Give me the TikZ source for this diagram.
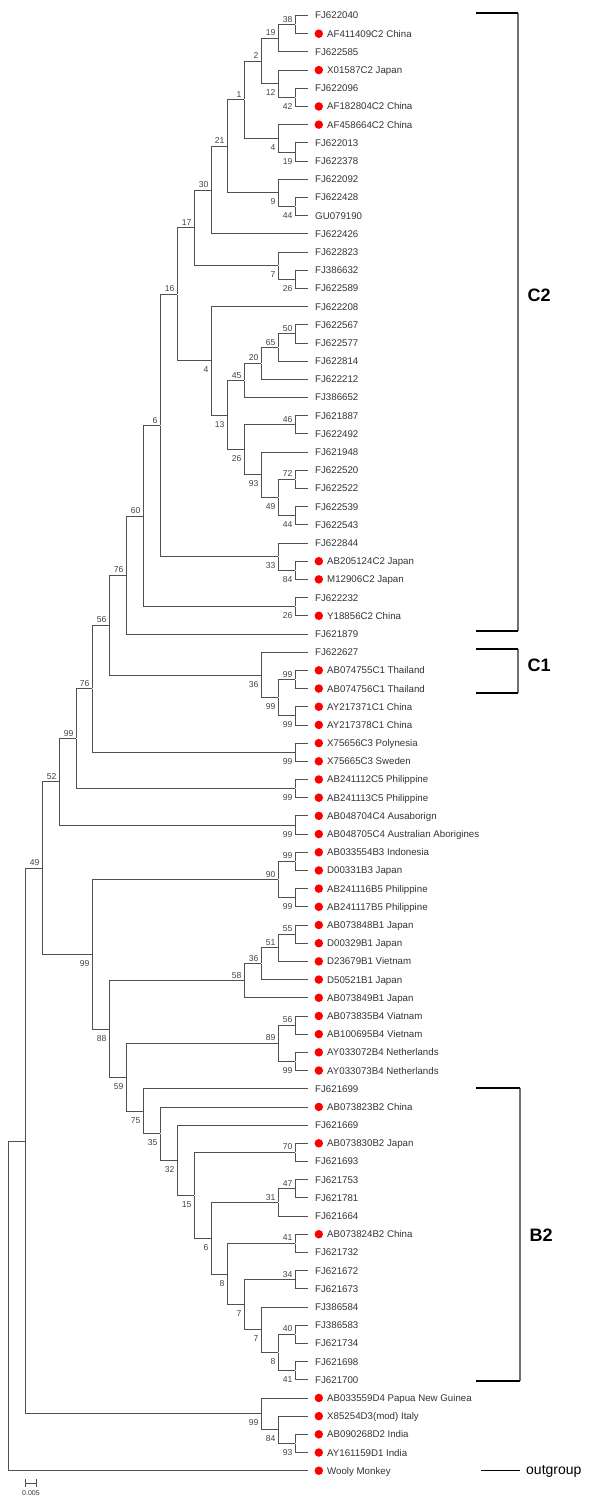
\documentclass[tikz,border=0pt]{standalone}
\usepackage{fontspec}
\setmainfont{Liberation Sans}
\usepackage{tikz}
\usetikzlibrary{positioning}
\definecolor{inkgray}{HTML}{333333}
\definecolor{linegray}{HTML}{505050}
\definecolor{bootgray}{HTML}{444444}
\definecolor{brackgray}{HTML}{707070}

\begin{document}
\begin{tikzpicture}
[x=1pt,y=-18.19pt,
 inner/.style={inner sep=0pt,minimum size=0pt},
 boot/.style={font=\fontsize{8.6}{9}\selectfont,text=bootgray,inner sep=2.2pt,text height=6.2pt,text depth=0pt},
 hi/.style={label={[boot,yshift=5.5pt]left:#1}},
 lo/.style={label={[boot,yshift=-9pt]left:#1}},
 leaf/.style={anchor=west,inner xsep=7pt,inner ysep=0pt,text height=6.95pt,text depth=0pt,font=\fontsize{9.7}{10}\selectfont,text=inkgray},
 reddot/.style={circle,fill=red,inner sep=0pt,minimum size=8.5pt},
 hbv/.style={leaf,inner xsep=19pt,label={[reddot,xshift=15.25pt]west:{}}},
 br/.style={draw=linegray,line width=0.8pt},
 brk/.style={draw=black,line width=1.6pt},
 brkv/.style={draw=brackgray,line width=1.2pt},
 clade/.style={anchor=west,font=\fontsize{18}{18}\selectfont\bfseries}]
\useasboundingbox (0,0.148) rectangle (600,82.94);

% leaves
\node[leaf] (FJ622040) at (308,1) {FJ622040};
\node[hbv] (AF411409) at (308,2) {AF411409C2 China};
\node[leaf] (FJ622585) at (308,3) {FJ622585};
\node[hbv] (X01587) at (308,4) {X01587C2 Japan};
\node[leaf] (FJ622096) at (308,5) {FJ622096};
\node[hbv] (AF182804) at (308,6) {AF182804C2 China};
\node[hbv] (AF458664) at (308,7) {AF458664C2 China};
\node[leaf] (FJ622013) at (308,8) {FJ622013};
\node[leaf] (FJ622378) at (308,9) {FJ622378};
\node[leaf] (FJ622092) at (308,10) {FJ622092};
\node[leaf] (FJ622428) at (308,11) {FJ622428};
\node[leaf] (GU079190) at (308,12) {GU079190};
\node[leaf] (FJ622426) at (308,13) {FJ622426};
\node[leaf] (FJ622823) at (308,14) {FJ622823};
\node[leaf] (FJ386632) at (308,15) {FJ386632};
\node[leaf] (FJ622589) at (308,16) {FJ622589};
\node[leaf] (FJ622208) at (308,17) {FJ622208};
\node[leaf] (FJ622567) at (308,18) {FJ622567};
\node[leaf] (FJ622577) at (308,19) {FJ622577};
\node[leaf] (FJ622814) at (308,20) {FJ622814};
\node[leaf] (FJ622212) at (308,21) {FJ622212};
\node[leaf] (FJ386652) at (308,22) {FJ386652};
\node[leaf] (FJ621887) at (308,23) {FJ621887};
\node[leaf] (FJ622492) at (308,24) {FJ622492};
\node[leaf] (FJ621948) at (308,25) {FJ621948};
\node[leaf] (FJ622520) at (308,26) {FJ622520};
\node[leaf] (FJ622522) at (308,27) {FJ622522};
\node[leaf] (FJ622539) at (308,28) {FJ622539};
\node[leaf] (FJ622543) at (308,29) {FJ622543};
\node[leaf] (FJ622844) at (308,30) {FJ622844};
\node[hbv] (AB205124) at (308,31) {AB205124C2 Japan};
\node[hbv] (M12906) at (308,32) {M12906C2 Japan};
\node[leaf] (FJ622232) at (308,33) {FJ622232};
\node[hbv] (Y18856) at (308,34) {Y18856C2 China};
\node[leaf] (FJ621879) at (308,35) {FJ621879};
\node[leaf] (FJ622627) at (308,36) {FJ622627};
\node[hbv] (AB074755) at (308,37) {AB074755C1 Thailand};
\node[hbv] (AB074756) at (308,38) {AB074756C1 Thailand};
\node[hbv] (AY217371) at (308,39) {AY217371C1 China};
\node[hbv] (AY217378) at (308,40) {AY217378C1 China};
\node[hbv] (X75656) at (308,41) {X75656C3 Polynesia};
\node[hbv] (X75665) at (308,42) {X75665C3 Sweden};
\node[hbv] (AB241112) at (308,43) {AB241112C5 Philippine};
\node[hbv] (AB241113) at (308,44) {AB241113C5 Philippine};
\node[hbv] (AB048704) at (308,45) {AB048704C4 Ausaborign};
\node[hbv] (AB048705) at (308,46) {AB048705C4 Australian Aborigines};
\node[hbv] (AB033554) at (308,47) {AB033554B3 Indonesia};
\node[hbv] (D00331) at (308,48) {D00331B3 Japan};
\node[hbv] (AB241116) at (308,49) {AB241116B5 Philippine};
\node[hbv] (AB241117) at (308,50) {AB241117B5 Philippine};
\node[hbv] (AB073848) at (308,51) {AB073848B1 Japan};
\node[hbv] (D00329) at (308,52) {D00329B1 Japan};
\node[hbv] (D23679) at (308,53) {D23679B1 Vietnam};
\node[hbv] (D50521) at (308,54) {D50521B1 Japan};
\node[hbv] (AB073849) at (308,55) {AB073849B1 Japan};
\node[hbv] (AB073835) at (308,56) {AB073835B4 Viatnam};
\node[hbv] (AB100695) at (308,57) {AB100695B4 Vietnam};
\node[hbv] (AY033072) at (308,58) {AY033072B4 Netherlands};
\node[hbv] (AY033073) at (308,59) {AY033073B4 Netherlands};
\node[leaf] (FJ621699) at (308,60) {FJ621699};
\node[hbv] (AB073823) at (308,61) {AB073823B2 China};
\node[leaf] (FJ621669) at (308,62) {FJ621669};
\node[hbv] (AB073830) at (308,63) {AB073830B2 Japan};
\node[leaf] (FJ621693) at (308,64) {FJ621693};
\node[leaf] (FJ621753) at (308,65) {FJ621753};
\node[leaf] (FJ621781) at (308,66) {FJ621781};
\node[leaf] (FJ621664) at (308,67) {FJ621664};
\node[hbv] (AB073824) at (308,68) {AB073824B2 China};
\node[leaf] (FJ621732) at (308,69) {FJ621732};
\node[leaf] (FJ621672) at (308,70) {FJ621672};
\node[leaf] (FJ621673) at (308,71) {FJ621673};
\node[leaf] (FJ386584) at (308,72) {FJ386584};
\node[leaf] (FJ386583) at (308,73) {FJ386583};
\node[leaf] (FJ621734) at (308,74) {FJ621734};
\node[leaf] (FJ621698) at (308,75) {FJ621698};
\node[leaf] (FJ621700) at (308,76) {FJ621700};
\node[hbv] (AB033559) at (308,77) {AB033559D4 Papua New Guinea};
\node[hbv] (X85254) at (308,78) {X85254D3(mod) Italy};
\node[hbv] (AB090268) at (308,79) {AB090268D2 India};
\node[hbv] (AY161159) at (308,80) {AY161159D1 India};
\node[hbv] (wooly) at (308,81) {Wooly Monkey};

% inner nodes, C2 part
\node[inner,hi=38] (b38) at (295,1.5) {};
\node[inner,hi=19] (b19) at (278,2.25) {};
\node[inner,lo=42] (b42) at (295,5.5) {};
\node[inner,lo=12] (b12) at (278,4.75) {};
\node[inner,hi=2] (b2) at (261,3.5) {};
\node[inner,lo=19] (b19x) at (295,8.5) {};
\node[inner,lo=4] (b4) at (278,7.75) {};
\node[inner,hi=1] (b1) at (244,5.625) {};
\node[inner,lo=44] (b44) at (295,11.5) {};
\node[inner,lo=9] (b9) at (278,10.75) {};
\node[inner,hi=21] (b21) at (227,8.188) {};
\node[inner,hi=30] (b30) at (211,10.594) {};
\node[inner,lo=26] (b26) at (295,15.5) {};
\node[inner,lo=7] (b7) at (278,14.75) {};
\node[inner,hi=17] (b17) at (194,12.672) {};
\node[inner,hi=50] (b50) at (295,18.5) {};
\node[inner,hi=65] (b65) at (278,19.25) {};
\node[inner,hi=20] (b20) at (261,20.125) {};
\node[inner,hi=45] (b45) at (244,21.063) {};
\node[inner,hi=46] (b46) at (295,23.5) {};
\node[inner,hi=72] (b72) at (295,26.5) {};
\node[inner,lo=44] (b44x) at (295,28.5) {};
\node[inner,lo=49] (b49) at (278,27.5) {};
\node[inner,lo=93] (b93) at (261,26.25) {};
\node[inner,lo=26] (b26x) at (244,24.875) {};
\node[inner,lo=13] (b13) at (227,22.969) {};
\node[inner,lo=4] (b4x) at (211,19.984) {};
\node[inner,hi=16] (b16) at (177,16.328) {};
\node[inner,lo=84] (b84) at (295,31.5) {};
\node[inner,lo=33] (b33) at (278,30.75) {};
\node[inner,hi=6] (b6) at (160,23.539) {};
\node[inner,lo=26] (b26y) at (295,33.5) {};
\node[inner,hi=60] (b60) at (143,28.52) {};
\node[inner,hi=76] (b76) at (126,31.76) {};
% C1, C3, C5, C4
\node[inner,hi=99] (b99a) at (295,37.5) {};
\node[inner,lo=99] (b99b) at (295,39.5) {};
\node[inner,lo=99] (b99c) at (278,38.5) {};
\node[inner,lo=36] (b36) at (261,37.25) {};
\node[inner,hi=56] (b56) at (109,34.505) {};
\node[inner,lo=99] (b99d) at (295,41.5) {};
\node[inner,hi=76] (b76x) at (92,38.0) {};
\node[inner,lo=99] (b99e) at (295,43.5) {};
\node[inner,hi=99] (b99f) at (76,40.75) {};
\node[inner,lo=99] (b99g) at (295,45.5) {};
\node[inner,hi=52] (b52) at (59,43.125) {};
% B part
\node[inner,hi=99] (b99h) at (295,47.5) {};
\node[inner,lo=99] (b99i) at (295,49.5) {};
\node[inner,hi=90] (b90) at (278,48.5) {};
\node[inner,hi=55] (b55) at (295,51.5) {};
\node[inner,hi=51] (b51) at (278,52.25) {};
\node[inner,hi=36] (b36x) at (261,53.125) {};
\node[inner,hi=58] (b58) at (244,54.063) {};
\node[inner,hi=56] (b56x) at (295,56.5) {};
\node[inner,lo=99] (b99k) at (295,58.5) {};
\node[inner,hi=89] (b89) at (278,57.5) {};
\node[inner,hi=70] (b70) at (295,63.5) {};
\node[inner,hi=47] (b47) at (295,65.5) {};
\node[inner,hi=31] (b31) at (278,66.25) {};
\node[inner,hi=41] (b41) at (295,68.5) {};
\node[inner,hi=34] (b34) at (295,70.5) {};
\node[inner,hi=40] (b40) at (295,73.5) {};
\node[inner,lo=41] (b41x) at (295,75.5) {};
\node[inner,lo=8] (b8) at (278,74.5) {};
\node[inner,lo=7] (b7x) at (261,73.25) {};
\node[inner,lo=7] (b7y) at (244,71.875) {};
\node[inner,lo=8] (b8x) at (227,70.188) {};
\node[inner,lo=6] (b6x) at (211,68.219) {};
\node[inner,lo=15] (b15) at (194,65.859) {};
\node[inner,lo=32] (b32) at (177,63.93) {};
\node[inner,lo=35] (b35) at (160,62.465) {};
\node[inner,lo=75] (b75) at (143,61.232) {};
\node[inner,lo=59] (b59) at (126,59.366) {};
\node[inner,lo=88] (b88) at (109,56.714) {};
\node[inner,lo=99] (b99j) at (92,52.607) {};
\node[inner,hi=49] (b49x) at (42,47.866) {};
% D part and root
\node[inner,lo=93] (b93x) at (295,79.5) {};
\node[inner,lo=84] (b84x) at (278,78.75) {};
\node[inner,lo=99] (b99l) at (261,77.875) {};
\node[inner] (nx) at (25,62.87) {};
\node[inner] (root) at (8,71.935) {};

% branches
\draw[br] (b38) |- (FJ622040) (b38) |- (AF411409);
\draw[br] (b19) |- (b38) (b19) |- (FJ622585);
\draw[br] (b42) |- (FJ622096) (b42) |- (AF182804);
\draw[br] (b12) |- (X01587) (b12) |- (b42);
\draw[br] (b2) |- (b19) (b2) |- (b12);
\draw[br] (b19x) |- (FJ622013) (b19x) |- (FJ622378);
\draw[br] (b4) |- (AF458664) (b4) |- (b19x);
\draw[br] (b1) |- (b2) (b1) |- (b4);
\draw[br] (b44) |- (FJ622428) (b44) |- (GU079190);
\draw[br] (b9) |- (FJ622092) (b9) |- (b44);
\draw[br] (b21) |- (b1) (b21) |- (b9);
\draw[br] (b30) |- (b21) (b30) |- (FJ622426);
\draw[br] (b26) |- (FJ386632) (b26) |- (FJ622589);
\draw[br] (b7) |- (FJ622823) (b7) |- (b26);
\draw[br] (b17) |- (b30) (b17) |- (b7);
\draw[br] (b50) |- (FJ622567) (b50) |- (FJ622577);
\draw[br] (b65) |- (b50) (b65) |- (FJ622814);
\draw[br] (b20) |- (b65) (b20) |- (FJ622212);
\draw[br] (b45) |- (b20) (b45) |- (FJ386652);
\draw[br] (b46) |- (FJ621887) (b46) |- (FJ622492);
\draw[br] (b72) |- (FJ622520) (b72) |- (FJ622522);
\draw[br] (b44x) |- (FJ622539) (b44x) |- (FJ622543);
\draw[br] (b49) |- (b72) (b49) |- (b44x);
\draw[br] (b93) |- (FJ621948) (b93) |- (b49);
\draw[br] (b26x) |- (b46) (b26x) |- (b93);
\draw[br] (b13) |- (b45) (b13) |- (b26x);
\draw[br] (b4x) |- (FJ622208) (b4x) |- (b13);
\draw[br] (b16) |- (b17) (b16) |- (b4x);
\draw[br] (b84) |- (AB205124) (b84) |- (M12906);
\draw[br] (b33) |- (FJ622844) (b33) |- (b84);
\draw[br] (b6) |- (b16) (b6) |- (b33);
\draw[br] (b26y) |- (FJ622232) (b26y) |- (Y18856);
\draw[br] (b60) |- (b6) (b60) |- (b26y);
\draw[br] (b76) |- (b60) (b76) |- (FJ621879);
\draw[br] (b99a) |- (AB074755) (b99a) |- (AB074756);
\draw[br] (b99b) |- (AY217371) (b99b) |- (AY217378);
\draw[br] (b99c) |- (b99a) (b99c) |- (b99b);
\draw[br] (b36) |- (FJ622627) (b36) |- (b99c);
\draw[br] (b56) |- (b76) (b56) |- (b36);
\draw[br] (b99d) |- (X75656) (b99d) |- (X75665);
\draw[br] (b76x) |- (b56) (b76x) |- (b99d);
\draw[br] (b99e) |- (AB241112) (b99e) |- (AB241113);
\draw[br] (b99f) |- (b76x) (b99f) |- (b99e);
\draw[br] (b99g) |- (AB048704) (b99g) |- (AB048705);
\draw[br] (b52) |- (b99f) (b52) |- (b99g);
\draw[br] (b99h) |- (AB033554) (b99h) |- (D00331);
\draw[br] (b99i) |- (AB241116) (b99i) |- (AB241117);
\draw[br] (b90) |- (b99h) (b90) |- (b99i);
\draw[br] (b55) |- (AB073848) (b55) |- (D00329);
\draw[br] (b51) |- (b55) (b51) |- (D23679);
\draw[br] (b36x) |- (b51) (b36x) |- (D50521);
\draw[br] (b58) |- (b36x) (b58) |- (AB073849);
\draw[br] (b56x) |- (AB073835) (b56x) |- (AB100695);
\draw[br] (b99k) |- (AY033072) (b99k) |- (AY033073);
\draw[br] (b89) |- (b56x) (b89) |- (b99k);
\draw[br] (b70) |- (AB073830) (b70) |- (FJ621693);
\draw[br] (b47) |- (FJ621753) (b47) |- (FJ621781);
\draw[br] (b31) |- (b47) (b31) |- (FJ621664);
\draw[br] (b41) |- (AB073824) (b41) |- (FJ621732);
\draw[br] (b34) |- (FJ621672) (b34) |- (FJ621673);
\draw[br] (b40) |- (FJ386583) (b40) |- (FJ621734);
\draw[br] (b41x) |- (FJ621698) (b41x) |- (FJ621700);
\draw[br] (b8) |- (b40) (b8) |- (b41x);
\draw[br] (b7x) |- (FJ386584) (b7x) |- (b8);
\draw[br] (b7y) |- (b34) (b7y) |- (b7x);
\draw[br] (b8x) |- (b41) (b8x) |- (b7y);
\draw[br] (b6x) |- (b31) (b6x) |- (b8x);
\draw[br] (b15) |- (b70) (b15) |- (b6x);
\draw[br] (b32) |- (FJ621669) (b32) |- (b15);
\draw[br] (b35) |- (AB073823) (b35) |- (b32);
\draw[br] (b75) |- (FJ621699) (b75) |- (b35);
\draw[br] (b59) |- (b89) (b59) |- (b75);
\draw[br] (b88) |- (b58) (b88) |- (b59);
\draw[br] (b99j) |- (b90) (b99j) |- (b88);
\draw[br] (b49x) |- (b52) (b49x) |- (b99j);
\draw[br] (b93x) |- (AB090268) (b93x) |- (AY161159);
\draw[br] (b84x) |- (X85254) (b84x) |- (b93x);
\draw[br] (b99l) |- (AB033559) (b99l) |- (b84x);
\draw[br] (nx) |- (b49x) (nx) |- (b99l);
\draw[br] (root) |- (nx) (root) |- (wooly);

% clade brackets
\coordinate (c2a) at (476,0.86);
\coordinate (c2b) at (518,0.86);
\coordinate (c2c) at (518,34.84);
\coordinate (c2d) at (476,34.84);
\draw[brkv] (c2b) -- (c2c);
\draw[brk] (c2a) -- (c2b) (c2d) -- (c2c);
\node[clade] (C2) at (524,16.36) {C2};
\coordinate (c1a) at (476,35.83);
\coordinate (c1b) at (518,35.83);
\coordinate (c1c) at (518,38.24);
\coordinate (c1d) at (476,38.24);
\draw[brkv] (c1b) -- (c1c);
\draw[brk] (c1a) -- (c1b) (c1d) -- (c1c);
\node[clade] (C1) at (524,36.7) {C1};
\coordinate (b2a) at (476,59.96);
\coordinate (b2b) at (520,59.96);
\coordinate (b2c) at (520,76.07);
\coordinate (b2d) at (476,76.07);
\draw[brkv] (b2b) -- (b2c);
\draw[brk] (b2a) -- (b2b) (b2d) -- (b2c);
\node[clade] (B2) at (526,68.04) {B2};

% outgroup and scale
\coordinate (og) at (481,81);
\node[anchor=west,inner xsep=6pt,text height=7.3pt,text depth=0pt,font=\fontsize{14}{14}\selectfont] (ogt) at (520,81) {outgroup};
\draw[black,line width=0.8pt] (og) -- (ogt);
\coordinate (sbl) at (25,81.67);
\coordinate (sbr) at (37,81.67);
\draw[br,|-|] (sbl) -- (sbr);
\node[font=\fontsize{7}{7}\selectfont,text=inkgray] (sbt) at (31,82.25) {0.005};
\end{tikzpicture}
\end{document}
